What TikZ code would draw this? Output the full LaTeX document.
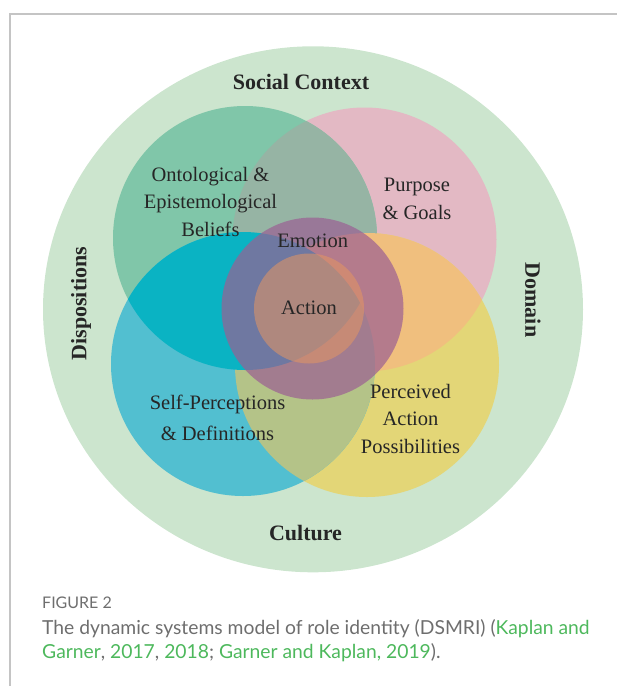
\documentclass[tikz,border=0pt]{standalone}
\usepackage{fontspec}
\setmainfont{Liberation Serif}
\newfontfamily\capfont{Lato}
\usetikzlibrary{positioning}

\definecolor{framegray}{HTML}{C4C4C4}
\definecolor{ringgreen}{HTML}{CCE5CE}
\definecolor{ontgreen}{HTML}{80C6A9}
\definecolor{purpink}{HTML}{E3B9C4}
\definecolor{selfcyan}{HTML}{52BFD0}
\definecolor{peryellow}{HTML}{E3D677}
\definecolor{ontpur}{HTML}{96B4A4}
\definecolor{ontself}{HTML}{0AB3C3}
\definecolor{purper}{HTML}{F0BF7E}
\definecolor{selfper}{HTML}{B4C388}
\definecolor{emopurple}{RGB}{155,95,147}
\definecolor{actorange}{RGB}{228,150,98}
\definecolor{capgray}{HTML}{6E6E6E}
\definecolor{citegreen}{HTML}{4DB85C}

\tikzset{
  outer label/.style={font=\fontsize{22}{24}\selectfont\bfseries, text=black!85},
  inner label/.style={align=center, text=black!85,
    font=\fontsize{20.5}{27.5}\selectfont},
  cap text/.style={inner sep=0pt, text=capgray,
    font=\capfont\fontsize{19.3}{24}\selectfont},
}

\begin{document}
\begin{tikzpicture}[x=1pt, y=-1pt]
\useasboundingbox (0,0) rectangle (617,686);
\draw[framegray, line width=1.5pt] (617,14) -- (10,14) -- (10,686);

% circle centres
\coordinate (ont)  at (245,238);
\coordinate (pur)  at (364.5,239.5);
\coordinate (self) at (243,364);
\coordinate (per)  at (367,365);
\coordinate (emo)  at (312.5,308.5);
\coordinate (act)  at (309,308.5);

\fill[ringgreen] (313,309.3) ellipse [x radius=270, y radius=263];

\fill[purpink]   (pur)  circle (132);
\fill[peryellow] (per)  circle (132);
\fill[ontgreen]  (ont)  circle (132);
\fill[selfcyan]  (self) circle (132);

% overlaps
\foreach \a/\b/\col in {ont/pur/ontpur, pur/per/purper,
                        self/per/selfper, self/ont/ontself}{
  \begin{scope}
    \clip (\a) circle (132);
    \fill[\col] (\b) circle (132);
  \end{scope}
}

\fill[emopurple, fill opacity=.7] (emo) circle (91);
\fill[actorange, fill opacity=.55] (act) circle (55);

\node[outer label] (social) at (301,82) {Social Context};
\node[outer label] (culture) at (305.5,533) {Culture};
\node[outer label, rotate=90] (disp) at (81,303.5) {Dispositions};
\node[outer label, rotate=-90] (domain) at (533,300) {Domain};

\node[inner label] (beliefs) at (210.5,201.7) {Ontological \&\\Epistemological\\Beliefs};
\node[inner label] (goals) at (417,198.9) {Purpose\\\& Goals};
\node[inner label] (emotion) at (312.7,241) {Emotion};
\node[inner label] (action) at (309,307.7) {Action};
\node[inner label] (selfdef) at (217.5,417.7) {Self-Perceptions\\[3.5pt]\& Definitions};
\node[inner label] (possib) at (410.5,418.7) {Perceived\\Action\\Possibilities};

\node[cap text, anchor=base west, font=\capfont\fontsize{16}{18}\selectfont]
  (figlabel) at (42,608.5) {FIGURE 2};
\node[cap text, anchor=base west] (capone) at (42,634) {The dynamic systems model of role identity (DSMRI) (\textcolor{citegreen}{Kaplan and}};
\node[cap text, anchor=base west] (captwo) at (42,658) {\textcolor{citegreen}{Garner}, \textcolor{citegreen}{2017}, \textcolor{citegreen}{2018}; \textcolor{citegreen}{Garner and Kaplan, 2019}).};
\end{tikzpicture}
\end{document}
